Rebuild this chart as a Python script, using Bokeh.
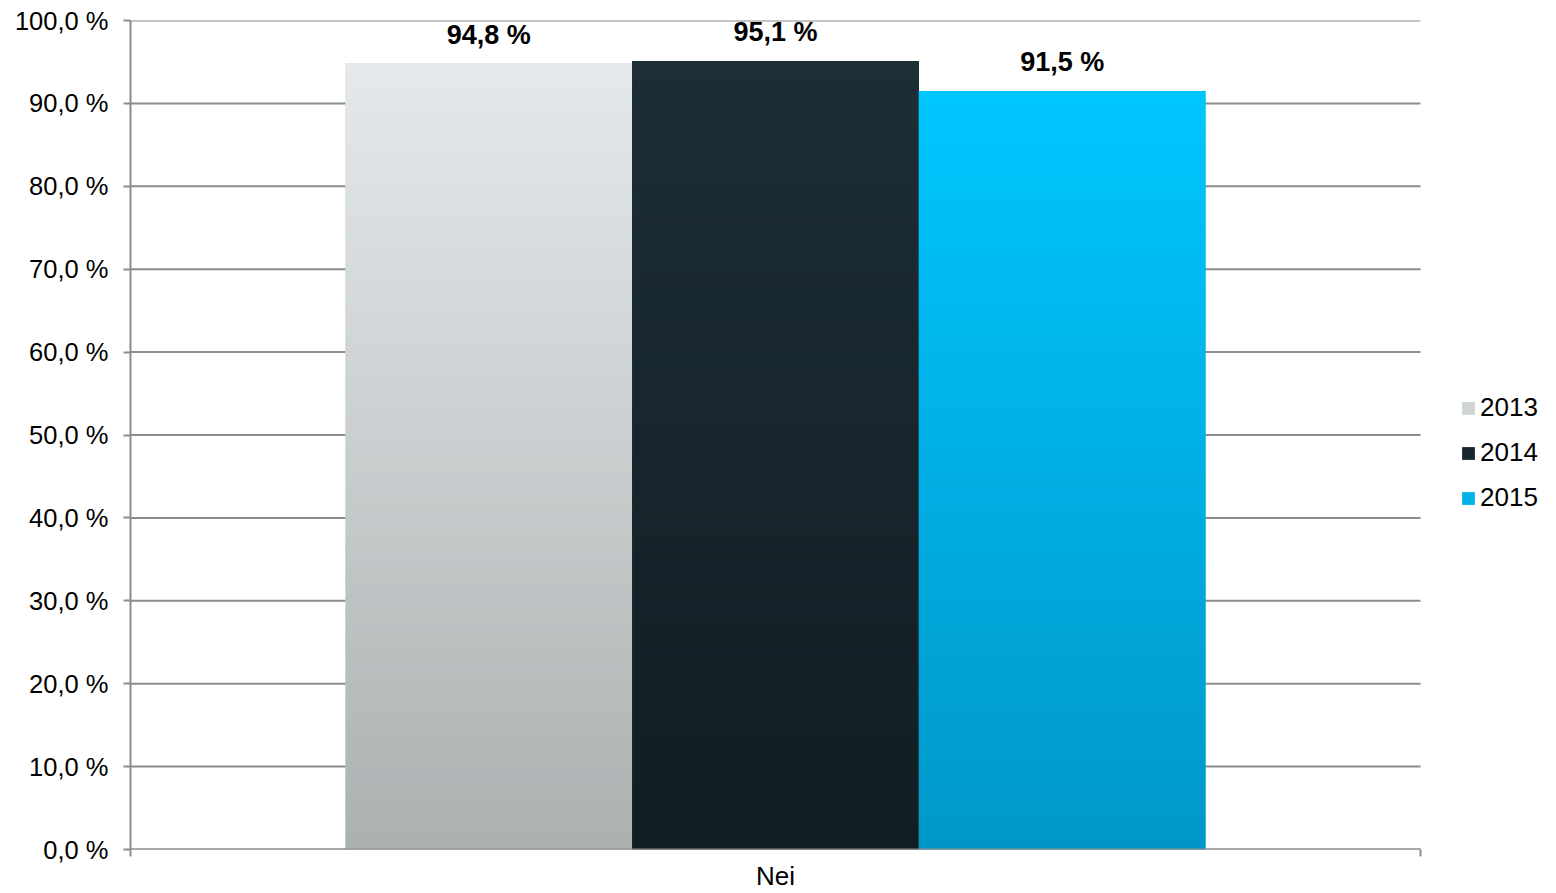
import math
from bokeh.plotting import figure
from bokeh.models import (Range1d, FixedTicker, Legend, LegendItem, ColumnDataSource)
from bokeh.core.properties import value
from bokeh.embed import file_html
from bokeh.resources import INLINE

# ---- data ----
category = "Nei"
years = ["2013", "2014", "2015"]
values = [94.8, 95.1, 91.5]
labels = ["94,8 %", "95,1 %", "91,5 %"]
y_ticks = [0, 10, 20, 30, 40, 50, 60, 70, 80, 90, 100]
y_tick_labels = ["0,0 %", "10,0 %", "20,0 %", "30,0 %", "40,0 %", "50,0 %",
                 "60,0 %", "70,0 %", "80,0 %", "90,0 %", "100,0 %"]

# ---- styles ----
top_colors = [(0xE5, 0xE9, 0xEC), (0x1D, 0x2E, 0x36), (0x00, 0xC6, 0xFF)]
bottom_colors = [(0xAB, 0xB1, 0xB1), (0x11, 0x1D, 0x23), (0x00, 0x97, 0xC8)]
legend_colors = ["#cfd4d6", "#17262d", "#00b2e6"]
FONT = "Liberation Sans"
GRID = "#8c8c8c"

W, H = 1556, 893
LEFT, PLOT_W = 130, 1290          # plot area: x 130..1420 px
FRAME_W = W - LEFT                # frame runs to the right edge (legend lives there)
p = figure(width=W, height=H, output_backend="svg", toolbar_location=None,
           x_range=Range1d(0, FRAME_W / PLOT_W), y_range=Range1d(0, 100),
           min_border_left=LEFT, min_border_right=0,
           min_border_top=20, min_border_bottom=43)
p.outline_line_color = None
p.background_fill_color = "white"
p.border_fill_color = "white"

# grid lines across the category width only
p.xgrid.grid_line_color = None
p.ygrid.grid_line_color = None
p.segment(x0=[0] * len(y_ticks), x1=[1] * len(y_ticks), y0=y_ticks, y1=y_ticks,
          line_color=GRID, line_width=2)

# bar geometry (category centred at 0.5, group = 2/3 of the category width)
bw = (2.0 / 3.0) / len(years)
centers = [0.5 + (i - 1) * bw for i in range(len(years))]

def hexc(c):
    return "#%02x%02x%02x" % c

legend_items = []
NSEG = 80
for i, (yr, v) in enumerate(zip(years, values)):
    r = p.vbar(x=[centers[i]], top=[v], bottom=[0], width=bw,
               fill_color=legend_colors[i], line_color=None)
    legend_items.append(LegendItem(label=yr, renderers=[r]))
    # gradient: top colour at bar top, bottom colour at base
    tops, bots, cols = [], [], []
    for k in range(NSEG):
        b0 = v * k / NSEG
        b1 = v * (k + 1) / NSEG
        t = (k + 0.5) / NSEG
        c = tuple(int(round(bottom_colors[i][j] + (top_colors[i][j] - bottom_colors[i][j]) * t)) for j in range(3))
        bots.append(b0)
        tops.append(b1 + (0.05 if k < NSEG - 1 else 0))
        cols.append(hexc(c))
    src = ColumnDataSource(dict(x=[centers[i]] * NSEG, top=tops, bottom=bots, color=cols))
    p.vbar(x="x", top="top", bottom="bottom", width=bw, fill_color="color",
           line_color=None, source=src)

# x axis line (category width only), drawn above the bars
p.segment(x0=[0], x1=[1], y0=[0], y1=[0], line_color=GRID, line_width=2)

# value labels
p.text(x=centers, y=values, text=labels, text_align="center",
       text_baseline="bottom", y_offset=-14,
       text_font=value(FONT), text_font_style="bold",
       text_font_size="27px", text_color="black")

# y axis
p.yaxis.ticker = FixedTicker(ticks=y_ticks)
p.yaxis.major_label_overrides = {t: l for t, l in zip(y_ticks, y_tick_labels)}
p.yaxis.major_label_text_font = FONT
p.yaxis.major_label_text_font_size = "25.5px"
p.yaxis.major_label_text_color = "black"
p.yaxis.axis_line_color = GRID
p.yaxis.axis_line_width = 2
p.yaxis.major_tick_line_color = GRID
p.yaxis.major_tick_line_width = 2
p.yaxis.major_tick_out = 7
p.yaxis.major_tick_in = 0
p.yaxis.minor_tick_line_color = None
p.yaxis.major_label_standoff = 15

# x axis: label in the middle, tick marks at category edges
p.xaxis.ticker = FixedTicker(ticks=[0.5], minor_ticks=[0, 1])
p.xaxis.major_label_overrides = {0.5: category}
p.xaxis.major_label_text_font = FONT
p.xaxis.major_label_text_font_size = "26px"
p.xaxis.major_label_text_color = "black"
p.xaxis.axis_line_color = None
p.xaxis.major_tick_line_color = None
p.xaxis.minor_tick_line_color = GRID
p.xaxis.minor_tick_line_width = 2
p.xaxis.minor_tick_out = 7
p.xaxis.minor_tick_in = 0
p.xaxis.major_label_standoff = 4

legend = Legend(items=legend_items, location=(1330, 336),
                background_fill_alpha=0, border_line_color=None,
                padding=0, margin=0, spacing=14,
                glyph_width=16, glyph_height=16, label_standoff=4,
                label_text_font=FONT, label_text_font_size="26px",
                label_text_color="black",
                label_height=28, label_text_baseline="middle")
p.add_layout(legend, "center")

open("out.html", "w").write(file_html(p, INLINE))
